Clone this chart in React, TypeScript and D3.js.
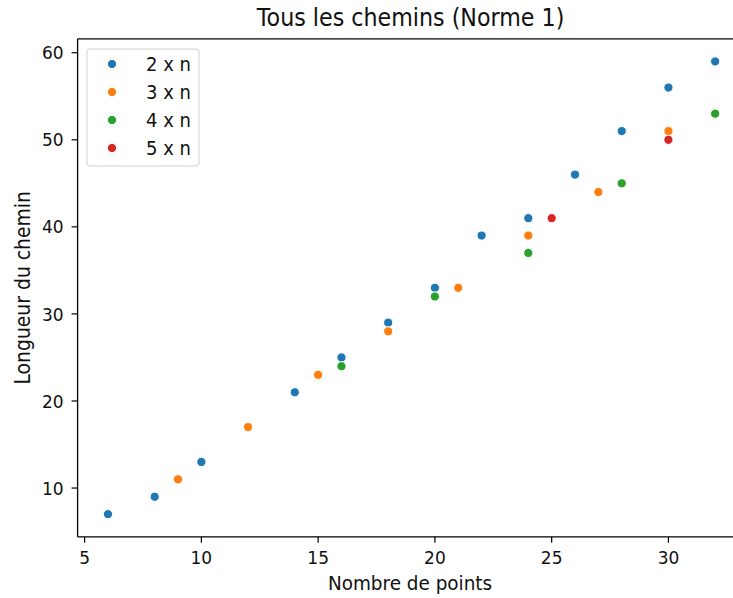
import React from "react";
import * as d3 from "d3";

const seriesNames = ["2 x n", "3 x n", "4 x n", "5 x n"];
const seriesColors = ["#1f77b4", "#ff7f0e", "#2ca02c", "#d62728"];

const x2n = [6, 8, 10, 12, 14, 16, 18, 20, 22, 24, 26, 28, 30, 32];
const y2n = [7, 9, 13, 17, 21, 25, 29, 33, 39, 41, 46, 51, 56, 59];
const x3n = [9, 12, 15, 18, 21, 24, 27, 30];
const y3n = [11, 17, 23, 28, 33, 39, 44, 51];
const x4n = [16, 20, 24, 28, 32];
const y4n = [24, 32, 37, 45, 53];
const x5n = [25, 30];
const y5n = [41, 50];

const xTicks = [5, 10, 15, 20, 25, 30];
const yTicks = [10, 20, 30, 40, 50, 60];

const title = "Tous les chemins (Norme 1)";
const xLabel = "Nombre de points";
const yLabel = "Longueur du chemin";

const seriesX = [x2n, x3n, x4n, x5n];
const seriesY = [y2n, y3n, y4n, y5n];

const K = 1.08; // vertical stretch of glyphs

function Txt({ x, y, size, anchor = "start", rotate = 0, children }: any) {
  const t = rotate
    ? `translate(${x},${y}) rotate(${rotate}) scale(1,${K})`
    : `translate(${x},${y}) scale(1,${K})`;
  return (
    <g transform={t}>
      <text x={0} y={0} textAnchor={anchor} fontSize={size} fill="#111">{children}</text>
    </g>
  );
}

export default function App() {
  const W = 733, H = 598;
  const left = 77.6, right = 745.5, top = 38.8, bottom = 536.8;
  const font = "DejaVu Sans, sans-serif";
  const fs = 17;

  const allX = seriesX.flat();
  const allY = seriesY.flat();
  const [xmin, xmax] = d3.extent(allX) as [number, number];
  const [ymin, ymax] = d3.extent(allY) as [number, number];
  const xm = (xmax - xmin) * 0.05, ym = (ymax - ymin) * 0.05;
  const x = d3.scaleLinear().domain([xmin - xm, xmax + xm]).range([left, right]);
  const y = d3.scaleLinear().domain([ymin - ym, ymax + ym]).range([bottom, top]);

  const legX = 87, legY = 49, legW = 112, legH = 117;

  return (
    <svg width={W} height={H} style={{ position: "absolute", left: 0, top: 0, background: "#fff" }} fontFamily={font}>
      <rect x={0} y={0} width={W} height={H} fill="#fff" />
      <Txt x={(left + right) / 2 - 1} y={26} size={22.2} anchor="middle">{title}</Txt>
      {/* spines (right spine falls outside the visible area) */}
      <line x1={left} x2={left} y1={top} y2={bottom} stroke="#000" strokeWidth={1.3} />
      <line x1={left} x2={right} y1={bottom} y2={bottom} stroke="#000" strokeWidth={1.3} />
      <line x1={left} x2={right} y1={top} y2={top} stroke="#000" strokeWidth={1.3} />
      {xTicks.map((t) => (
        <g key={"xt" + t}>
          <line x1={x(t)} x2={x(t)} y1={bottom} y2={bottom + 6} stroke="#000" strokeWidth={1.2} />
          <Txt x={x(t)} y={564} size={fs} anchor="middle">{t}</Txt>
        </g>
      ))}
      {yTicks.map((t) => (
        <g key={"yt" + t}>
          <line x1={left - 6} x2={left} y1={y(t)} y2={y(t)} stroke="#000" strokeWidth={1.2} />
          <Txt x={left - 14} y={y(t) + 6.6} size={fs} anchor="end">{t}</Txt>
        </g>
      ))}
      <Txt x={410} y={589.5} size={18.4} anchor="middle">{xLabel}</Txt>
      <Txt x={30} y={(top + bottom) / 2} size={18.8} anchor="middle" rotate={-90}>{yLabel}</Txt>
      {seriesX.map((xs, i) => (
        <g key={"s" + i}>
          {xs.map((xv, j) => (
            <circle key={j} cx={x(xv)} cy={y(seriesY[i][j])} r={4.6} fill={seriesColors[i]} stroke="#fff" strokeWidth={1} />
          ))}
        </g>
      ))}
      <rect x={legX} y={legY} width={legW} height={legH} rx={3} fill="#fff" fillOpacity={0.8} stroke="#d0d0d0" strokeWidth={1} />
      {seriesNames.map((n, i) => (
        <g key={"l" + i}>
          <circle cx={112} cy={64 + i * 28} r={4.6} fill={seriesColors[i]} stroke="#fff" strokeWidth={1} />
          <Txt x={146} y={64 + i * 28 + 7} size={18} anchor="start">{n}</Txt>
        </g>
      ))}
    </svg>
  );
}
